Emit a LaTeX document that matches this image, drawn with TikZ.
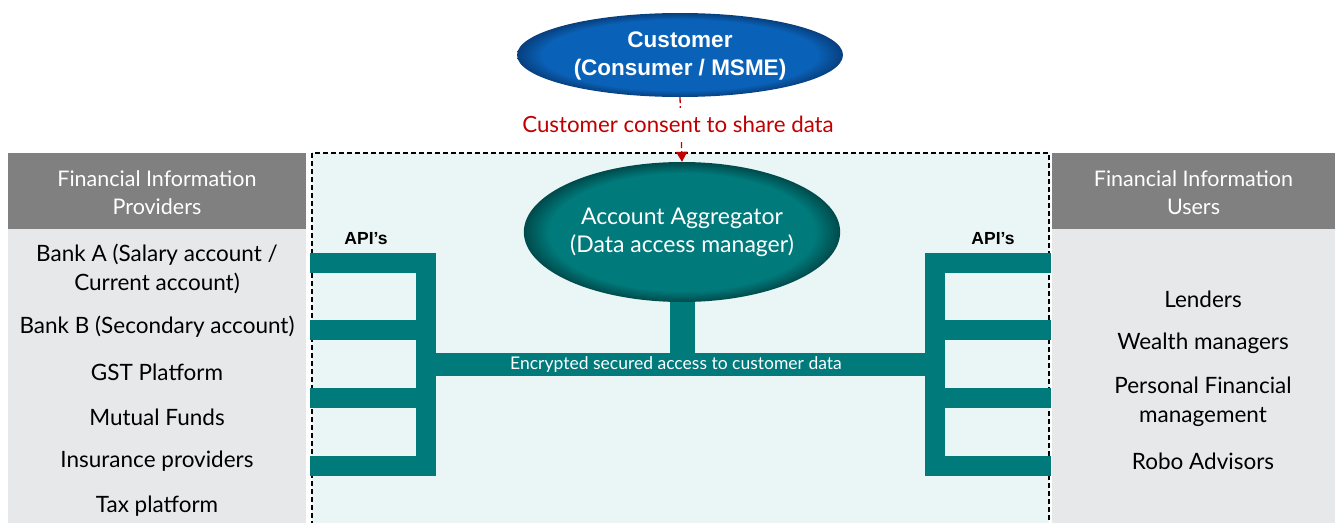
\documentclass[tikz,border=0pt]{standalone}
\usepackage{fontspec}
\setmainfont{Lato}
\newfontfamily\arialfont{Liberation Sans}
\usetikzlibrary{shapes.geometric,arrows.meta}
\definecolor{custblue}{HTML}{0A62B8}
\definecolor{custedge}{HTML}{073F7E}
\definecolor{aateal}{HTML}{007A7B}
\definecolor{aaedge}{HTML}{004A4B}
\definecolor{barteal}{HTML}{007A7B}
\definecolor{hdrgray}{HTML}{808080}
\definecolor{bodygray}{HTML}{E7E8EA}
\definecolor{boxfill}{HTML}{EAF5F5}
\definecolor{consent}{HTML}{C00000}
\pgfdeclareradialshading{custshade}{\pgfpoint{0bp}{0bp}}{color(0bp)=(custblue);color(21bp)=(custblue);color(25bp)=(custedge);color(50bp)=(custedge)}
\pgfdeclareradialshading{aashade}{\pgfpoint{0bp}{0bp}}{color(0bp)=(aateal);color(21bp)=(aateal);color(25bp)=(aaedge);color(50bp)=(aaedge)}
\tikzset{
  hdr/.style={fill=hdrgray, text=white, align=center, minimum height=76pt, inner sep=0pt,
    font=\fontsize{21.5}{28}\selectfont},
  hdrtext/.style={text=white, align=center, inner sep=0pt, font=\fontsize{21.5}{28}\selectfont},
  item/.style={align=center, text=black, inner sep=0pt, yshift=-2pt, font=\fontsize{22.5}{29}\selectfont},
  bar/.style={fill=barteal},
  apilbl/.style={font=\arialfont\bfseries\fontsize{17.5}{20}\selectfont, text=black},
}
\begin{document}
\begin{tikzpicture}[x=1pt,y=-1pt]
\useasboundingbox (0,0) rectangle (1335,522);
\begin{scope}
\clip (0,0) rectangle (1335,522);
% central dashed box
\draw[dash pattern=on 5pt off 3pt, line width=1.4pt, fill=boxfill] (312,153) rectangle (1049,540);
% side panels
\fill[bodygray] (8,229) rectangle (306,530);
\fill[bodygray] (1052,229) rectangle (1340,530);
\end{scope}
\node[hdr, minimum width=298pt] (prov) at (157,191) {};
\node[hdrtext] (provt) at (157,193) {Financial Information\\Providers};
\node[hdr, minimum width=283pt] (users) at (1193.5,191) {};
\node[hdrtext] (userst) at (1193.5,193) {Financial Information\\Users};

% left items
\node[item] (bankA) at (157,267) {Bank A (Salary account /\\Current account)};
\node[item] (bankB) at (157,325) {Bank B (Secondary account)};
\node[item] (gst) at (157,370) {GST Platform};
\node[item] (mf) at (157,415) {Mutual Funds};
\node[item] (ins) at (157,459) {Insurance providers};
\node[item] (tax) at (157,504) {Tax platform};
% right items
\node[item] (lend) at (1203,297) {Lenders};
\node[item] (wealth) at (1203,341) {Wealth managers};
\node[item] (pfm) at (1203,400) {Personal Financial\\management};
\node[item] (robo) at (1203,459) {Robo Advisors};

% API labels
\node[apilbl] (apiL) at (366,239) {API’s};
\node[apilbl] (apiR) at (993,239) {API’s};

% teal bars
\fill[bar] (416,253) rectangle (436,476);
\foreach \y in {253,320,388,456} { \fill[bar] (310,\y) rectangle (436,\y+20); }
\fill[bar] (925,253) rectangle (945,476);
\foreach \y in {253,320,388,456} { \fill[bar] (925,\y) rectangle (1051,\y+20); }
\fill[bar] (436,353) rectangle (925,376);
\fill[bar] (670,290) rectangle (695,353);
\node[text=white, font=\fontsize{17.5}{20}\selectfont] (enc) at (676,365) {Encrypted secured access to customer data};

% ellipses
\node[ellipse, minimum width=326pt, minimum height=84pt, inner sep=0pt, shading=custshade] (cust) at (680,55) {};
\node[text=white, align=center, inner sep=0pt, font=\arialfont\bfseries\fontsize{22.5}{28}\selectfont] (custt) at (680,56)
  {Customer\\(Consumer / MSME)};
\node[ellipse, minimum width=286pt, minimum height=140pt, inner sep=0pt, shading=aashade,
  text=white, align=center, font=\fontsize{23}{28}\selectfont] (aa) at (682,232)
  {Account Aggregator\\(Data access manager)};

% consent arrow
\draw[consent, line width=1.3pt, dash pattern=on 6pt off 3pt, -{Triangle[width=11pt,length=10pt]}] (cust.south) -- (aa.north);
\node[fill=white, text=consent, minimum height=32pt, inner xsep=2pt, font=\fontsize{22.3}{24}\selectfont] (consentlbl) at (678,124) {Customer consent to share data};
\end{tikzpicture}
\end{document}
